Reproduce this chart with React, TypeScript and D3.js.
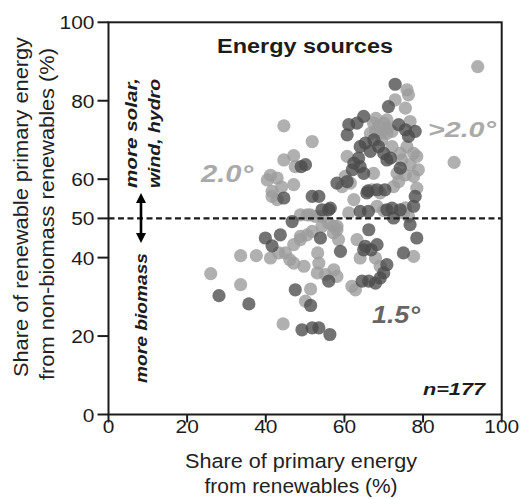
import React from "react";
import * as d3 from "d3";

// ---- data ----
const xTicks = [0, 20, 40, 60, 80, 100];
const yTicks = [0, 20, 40, 50, 60, 80, 100];
const threshold = 50;

// 2.0° and >2.0° scenarios (light grey)
const lightPoints: [number, number][] = [
  [93.9, 88.7], [87.9, 64.3], [44.6, 73.6], [51.8, 69.6], [26.0, 35.9], [33.6, 33.1],
  [33.6, 40.5], [37.6, 40.5], [44.4, 23.1], [51.4, 32.0], [50.1, 28.9], [41.2, 61.0],
  [40.4, 59.8], [42.9, 60.3], [44.6, 64.9], [47.1, 66.0], [47.5, 63.2], [47.1, 58.6],
  [41.6, 55.6], [42.9, 54.8], [41.6, 56.9], [41.2, 39.9], [43.3, 41.2], [45.0, 41.2],
  [47.1, 43.3], [48.8, 44.6], [50.5, 45.8], [51.8, 46.7], [47.1, 38.6], [49.7, 37.8],
  [46.1, 39.5], [53.2, 41.2], [53.5, 38.6], [53.1, 36.1], [55.2, 35.7], [57.3, 36.9],
  [58.1, 35.2], [58.1, 47.1], [58.5, 44.6], [50.5, 50.9], [52.6, 50.5], [54.3, 48.0],
  [56.0, 48.8], [57.3, 48.0], [61.5, 59.0], [60.2, 60.7], [59.4, 58.1], [62.4, 54.8],
  [61.1, 51.4], [63.2, 44.6], [64.0, 39.9], [67.9, 39.9], [69.1, 37.8], [61.9, 32.7],
  [62.8, 31.8], [75.0, 51.4], [77.6, 40.3], [76.3, 50.5], [78.4, 57.7], [68.3, 53.1],
  [60.7, 65.8], [67.4, 74.3], [68.7, 73.4], [70.0, 74.3], [70.8, 71.7], [69.1, 71.7],
  [67.9, 72.2], [70.8, 75.1], [66.6, 71.7], [72.1, 72.2], [76.7, 74.7], [72.1, 68.3],
  [74.2, 66.6], [77.6, 66.6], [78.4, 65.8], [75.9, 68.3], [72.9, 80.2], [75.5, 78.1],
  [75.9, 82.8], [76.3, 81.5], [67.0, 57.3], [67.4, 61.5], [69.1, 56.5], [72.5, 58.1],
  [73.8, 59.4], [73.4, 61.5], [75.5, 61.1], [76.7, 63.7], [78.8, 62.4], [77.6, 60.7],
  [74.6, 64.9], [48.8, 50.9], [51.3, 50.9], [54.3, 50.5], [58.1, 48.0], [48.8, 45.4],
  [69.5, 70.0], [71.0, 73.0], [68.0, 75.5], [44.0, 58.0], [57.2, 46.3], [75.5, 52.7],
  [70.0, 52.0],
];

// 1.5° scenarios (dark grey)
const darkPoints: [number, number][] = [
  [28.1, 30.3], [35.7, 28.2], [49.2, 21.6], [51.8, 22.1], [53.5, 22.1], [56.3, 20.4],
  [47.5, 31.8], [51.4, 27.8], [49.0, 63.2], [50.1, 63.7], [44.6, 55.2], [51.8, 55.6],
  [53.5, 55.6], [56.0, 52.2], [46.7, 49.2], [39.9, 45.0], [43.7, 45.8], [41.6, 43.0],
  [53.9, 45.0], [56.0, 34.0], [59.0, 41.6], [54.3, 52.2], [56.4, 52.6], [58.1, 59.0],
  [60.7, 59.4], [64.0, 51.8], [66.2, 47.1], [65.3, 42.9], [66.8, 42.0], [68.3, 43.3],
  [70.8, 38.2], [70.0, 36.1], [69.1, 34.8], [67.9, 33.5], [66.2, 34.0], [64.5, 34.0],
  [70.8, 52.2], [72.1, 52.6], [75.0, 41.2], [78.4, 45.0], [76.7, 48.4], [78.0, 55.6],
  [77.6, 53.1], [60.7, 71.3], [61.1, 73.9], [63.2, 74.3], [64.9, 76.0], [62.4, 64.1],
  [62.0, 62.4], [63.6, 65.4], [64.0, 68.3], [65.3, 69.2], [66.6, 67.1], [68.7, 68.3],
  [70.0, 66.6], [70.8, 64.9], [73.8, 73.9], [75.5, 72.6], [76.3, 70.9], [78.0, 72.2],
  [71.2, 78.5], [72.9, 84.2], [65.7, 56.5], [68.3, 57.3], [70.3, 57.3], [74.2, 62.8],
  [71.7, 65.4], [64.0, 63.2], [64.9, 61.5], [66.0, 57.0], [67.5, 70.0], [66.1, 51.8],
  [72.5, 50.1], [74.2, 52.2], [64.9, 42.0],
];

const W = 521;
const H = 499;
const M = { left: 108.5, right: 501.7, top: 22.3, bottom: 414.5 };
const FONT = "'Liberation Sans', Arial, Helvetica, sans-serif";
const INK = "#1c1c1c";
const LIGHT = "#9c9c9c";
const DARK = "#4c4c4c";

export default function App() {
  const x = d3.scaleLinear().domain([0, 100]).range([M.left, M.right]);
  const y = d3.scaleLinear().domain([0, 100]).range([M.bottom, M.top]);
  const y50 = y(threshold);
  const ax = 141;

  const stretched = (
    tx: number,
    ty: number,
    txt: string,
    opts: { size: number; len: number; weight?: string; style?: string; fill?: string; rot?: boolean; anchor?: string }
  ) => (
    <text
      transform={`translate(${tx},${ty})${opts.rot ? " rotate(-90)" : ""}`}
      fontSize={opts.size}
      fontWeight={opts.weight || "normal"}
      fontStyle={opts.style || "normal"}
      fill={opts.fill || INK}
      textAnchor={opts.anchor || "start"}
      textLength={opts.len}
      lengthAdjust="spacingAndGlyphs"
    >
      {txt}
    </text>
  );

  return (
    <svg
      width={W}
      height={H}
      style={{ position: "absolute", left: 0, top: 0, background: "#fff" }}
      fontFamily={FONT}
    >
      <defs>
        <filter id="soft" x="-10%" y="-10%" width="120%" height="120%">
          <feGaussianBlur stdDeviation="0.6" />
        </filter>
      </defs>

      {/* points */}
      <g filter="url(#soft)">
        {lightPoints.map((p, i) => (
          <circle key={"l" + i} cx={x(p[0])} cy={y(p[1])} r={6.6} fill={LIGHT} fillOpacity={0.8} />
        ))}
        {darkPoints.map((p, i) => (
          <circle key={"d" + i} cx={x(p[0])} cy={y(p[1])} r={6.6} fill={DARK} fillOpacity={0.78} />
        ))}
      </g>

      {/* dashed threshold */}
      <line x1={x(0)} x2={x(100)} y1={y50} y2={y50} stroke={INK} strokeWidth={2.4} strokeDasharray="6,3.5" />

      {/* frame */}
      <rect x={M.left} y={M.top} width={M.right - M.left} height={M.bottom - M.top} fill="none" stroke={INK} strokeWidth={2} />

      {/* y ticks */}
      {yTicks.map((t) => (
        <g key={"y" + t}>
          <line x1={M.left - 11} x2={M.left} y1={y(t)} y2={y(t)} stroke={INK} strokeWidth={2} />
          <text
            transform={`translate(${M.left - 14},${y(t) + 7}) scale(1.1,1)`}
            fontSize={19}
            textAnchor="end"
            fill={INK}
          >
            {t}
          </text>
        </g>
      ))}

      {/* x ticks */}
      {xTicks.map((t) => (
        <g key={"x" + t}>
          <line x1={x(t)} x2={x(t)} y1={M.bottom} y2={M.bottom + 8} stroke={INK} strokeWidth={2} />
          <text
            transform={`translate(${x(t)},${433}) scale(1.1,1)`}
            fontSize={19}
            textAnchor="middle"
            fill={INK}
          >
            {t}
          </text>
        </g>
      ))}

      {/* axis titles */}
      {stretched(301, 468, "Share of primary energy", { size: 20.5, len: 232, anchor: "middle", fill: "#222" })}
      {stretched(301, 493, "from renewables (%)", { size: 20.5, len: 193, anchor: "middle", fill: "#222" })}
      {stretched(28, 207, "Share of renewable primary energy", { size: 20.5, len: 340, anchor: "middle", rot: true, fill: "#222" })}
      {stretched(54, 214, "from non-biomass renewables (%)", { size: 20.5, len: 332, anchor: "middle", rot: true, fill: "#222" })}

      {/* title */}
      {stretched(305, 53, "Energy sources", { size: 19.5, len: 176, anchor: "middle", weight: "bold" })}

      {/* scenario labels */}
      {stretched(227, 182, "2.0°", { size: 23, len: 52, anchor: "middle", weight: "bold", style: "italic", fill: "#aaaaaa" })}
      {stretched(462, 137, ">2.0°", { size: 22, len: 68, anchor: "middle", weight: "bold", style: "italic", fill: "#aaaaaa" })}
      {stretched(396, 323, "1.5°", { size: 23, len: 48, anchor: "middle", weight: "bold", style: "italic", fill: "#666666" })}
      {stretched(485, 395, "n=177", { size: 17, len: 62, anchor: "end", weight: "bold", style: "italic" })}

      {/* direction annotations */}
      {stretched(137, 188, "more solar,", { size: 17, len: 110, weight: "bold", style: "italic", rot: true })}
      {stretched(160, 188, "wind, hydro", { size: 17, len: 109, weight: "bold", style: "italic", rot: true })}
      {stretched(147, 383, "more biomass", { size: 17, len: 130, weight: "bold", style: "italic", rot: true })}

      {/* double arrow */}
      <line x1={ax} x2={ax} y1={200} y2={236} stroke="#000" strokeWidth={2.6} />
      <path d={`M${ax - 5},${203} L${ax},${193} L${ax + 5},${203} Z`} fill="#000" />
      <path d={`M${ax - 5},${233} L${ax},${243} L${ax + 5},${233} Z`} fill="#000" />
    </svg>
  );
}
